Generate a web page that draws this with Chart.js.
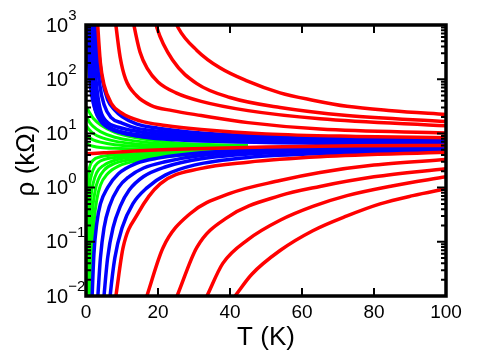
<!DOCTYPE html>
<html>
<head>
<meta charset="utf-8">
<script src="https://cdn.jsdelivr.net/npm/chart.js@4/dist/chart.umd.min.js"></script>
<style>
  html, body { margin: 0; padding: 0; background: #fff; }
</style>
</head>
<body>
<canvas id="chart" width="480" height="361"></canvas>
<script>
// axis ticks
const xTicks = [0, 20, 40, 60, 80, 100];
const yExponents = [-2, -1, 0, 1, 2, 3];

// separatrix (red, nearly flat)
const sepT = [0.3, 5, 15, 30, 50, 75, 100];
const sepRho = [4.2, 4.4, 4.8, 5.2, 5.6, 5.9, 6.0];

// red curves above the separatrix (insulating side), T in K, rho in kOhm
const redUpT = [
  [3.0, 3.3, 4.0, 5.0, 7.0, 10, 15, 22, 32, 50, 75, 100],
  [7.8, 8.3, 9.5, 11, 14, 18, 24, 32, 45, 65, 100],
  [12.5, 13.3, 15, 17, 20, 25, 32, 45, 65, 100],
  [18.5, 19.7, 24.2, 30.8, 40, 53.9, 72.5, 100],
  [23.5, 25.6, 30.8, 37.2, 44.7, 53.9, 63, 72.5, 85, 100]
];
const redUpRho = [
  [2000, 890, 200, 79, 36, 23.5, 17, 14, 11.8, 9.8, 8.8, 8.3],
  [2000, 1000, 251, 100, 50, 33, 26.3, 21.4, 15.8, 12, 10.2],
  [2000, 1000, 316, 158, 89, 56, 39, 26.3, 18.6, 13.8],
  [2000, 891, 219, 83, 46, 30, 21.4, 16.6],
  [2000, 891, 340, 162, 93, 56, 41, 31.6, 26.3, 22.4]
];

// red curves below the separatrix (metallic side)
const redDownT = [
  [7.6, 8.3, 10.3, 14.4, 20.6, 31.7, 45, 65, 100],
  [15.4, 16.9, 21.4, 28.9, 40, 53.9, 65, 80, 100],
  [23.4, 25.3, 30.8, 39.2, 53.9, 65, 80, 100],
  [31.4, 33.6, 38, 45, 53.9, 63, 72.5, 85, 100],
  [37.9, 41.4, 46, 53.9, 63, 72.5, 81.7, 90.8, 100]
];
const redDownRho = [
  [0.005, 0.01, 0.078, 0.33, 1.17, 2.24, 2.95, 3.7, 4.5],
  [0.005, 0.01, 0.078, 0.33, 0.78, 1.35, 1.9, 2.6, 3.3],
  [0.005, 0.01, 0.079, 0.28, 0.71, 1.05, 1.58, 2.24],
  [0.005, 0.01, 0.04, 0.11, 0.25, 0.45, 0.71, 1.07, 1.58],
  [0.005, 0.01, 0.025, 0.069, 0.16, 0.30, 0.5, 0.71, 0.95]
];

// blue curves above the separatrix
const blueUpT = [
  [0.2, 0.35, 0.6, 1.0, 1.6, 2.5, 4, 6.5, 10, 16, 25, 40, 65, 100],
  [0.55, 0.8, 1.1, 1.6, 2.4, 4, 7, 12, 20, 32, 55, 100],
  [1.0, 1.3, 1.7, 2.3, 3.2, 5, 8, 13, 20, 32, 55, 100],
  [1.5, 1.8, 2.3, 3.0, 4, 6, 9, 14, 20, 32, 55, 100],
  [2.1, 2.4, 3.0, 3.8, 5, 7, 10, 14, 20, 32, 55, 100],
  [2.7, 3.0, 3.6, 4.5, 6, 8, 10, 14, 20, 32, 55, 100]
];
const blueUpRho = [
  [2000, 1000, 300, 110, 50, 28, 18.5, 13, 10.5, 8.6, 7.6, 7.0, 6.6, 6.4],
  [2000, 1000, 250, 70, 30, 17, 12, 9.5, 8.2, 7.5, 7.0, 6.8],
  [2000, 1000, 250, 70, 28, 15, 11.5, 9.8, 8.8, 8.0, 7.3, 7.1],
  [2000, 1000, 250, 70, 27, 16, 13, 11, 9.8, 8.7, 7.7, 7.3],
  [2000, 1000, 250, 80, 34, 19.5, 15.5, 12.5, 11, 9.5, 8.2, 7.6],
  [2000, 1000, 300, 100, 42, 27, 20.5, 15, 12.5, 10.2, 8.7, 7.9]
];

// blue curves below the separatrix
const blueDownT = [
  [1.5, 1.7, 2.2, 3, 4, 6, 9, 14, 20, 32, 55, 100],
  [3.0, 3.3, 4, 5, 6.5, 9, 12, 16, 22, 32, 55, 100],
  [4.6, 5.0, 6, 7.5, 9.5, 12, 16, 22, 32, 55, 100],
  [6.3, 6.7, 8, 10, 13, 17, 22, 30, 45, 70, 100]
];
const blueDownRho = [
  [0.005, 0.01, 0.06, 0.22, 0.5, 1.0, 1.8, 2.8, 3.5, 4.4, 5.1, 5.4],
  [0.005, 0.01, 0.05, 0.18, 0.45, 1.0, 1.6, 2.3, 3.0, 3.9, 4.8, 5.2],
  [0.005, 0.01, 0.05, 0.18, 0.45, 0.9, 1.6, 2.4, 3.4, 4.5, 5.0],
  [0.005, 0.01, 0.05, 0.18, 0.5, 1.0, 1.7, 2.6, 3.6, 4.3, 4.7]
];

// green curves close to the separatrix
const greenUpT = [0.05, 1, 2, 4, 8, 14, 20, 30, 45];
const greenUpRho = [
  [31, 24, 19, 14.5, 10.5, 8.3, 7.2, 6.4, 6.0],
  [21, 16, 13.5, 10.8, 8.5, 7.2, 6.5, 6.0, 5.8],
  [14, 11.5, 10, 8.5, 7.2, 6.4, 6.0, 5.7, 5.6],
  [9.5, 8.3, 7.6, 6.9, 6.2, 5.8, 5.6, 5.4, 5.4],
  [6.5, 6.1, 5.8, 5.5, 5.3, 5.2, 5.1, 5.1, 5.2]
];
const greenDownT = [
  [0.1, 0.3, 0.6, 1, 2, 4, 8, 15, 25, 40],
  [0.3, 0.5, 0.9, 1.5, 2.5, 4, 8, 15, 25, 40],
  [0.6, 0.9, 1.3, 2, 3, 5, 8, 15, 25, 40],
  [1.0, 1.3, 1.8, 2.5, 3.5, 5, 8, 15, 25, 40],
  [1.4, 1.8, 2.3, 3, 4, 6, 9, 15, 25, 40]
];
const greenDownRho = [
  [0.01, 0.4, 1.5, 2.4, 3.2, 3.7, 4.0, 4.3, 4.7, 5.0],
  [0.01, 0.2, 0.9, 1.7, 2.5, 3.1, 3.6, 4.0, 4.5, 4.9],
  [0.01, 0.12, 0.55, 1.2, 1.9, 2.6, 3.2, 3.8, 4.3, 4.8],
  [0.01, 0.07, 0.35, 0.85, 1.45, 2.1, 2.8, 3.5, 4.1, 4.6],
  [0.01, 0.06, 0.25, 0.6, 1.1, 1.8, 2.5, 3.2, 3.9, 4.5]
];

const RED = '#ff0000';
const BLUE = '#0000ff';
const GREEN = '#00ff00';
const FONT = "'Liberation Sans', Arial, sans-serif";

function curve(ts, rhos, color, width, order) {
  return {
    data: ts.map((t, i) => ({ x: t, y: rhos[i] })),
    borderColor: color,
    borderWidth: width,
    pointRadius: 0,
    fill: false,
    cubicInterpolationMode: 'monotone',
    order: order
  };
}

const datasets = [];
greenUpRho.forEach(r => datasets.push(curve(greenUpT, r, GREEN, 3, 5)));
greenDownT.forEach((t, i) => datasets.push(curve(t, greenDownRho[i], GREEN, 3, 5)));
blueUpT.forEach((t, i) => datasets.push(curve(t, blueUpRho[i], BLUE, 3.5, 4)));
blueDownT.forEach((t, i) => datasets.push(curve(t, blueDownRho[i], BLUE, 3.5, 4)));
redUpT.forEach((t, i) => datasets.push(curve(t, redUpRho[i], RED, 3.5, 2)));
redDownT.forEach((t, i) => datasets.push(curve(t, redDownRho[i], RED, 3.5, 2)));
datasets.push(curve(sepT, sepRho, RED, 3.5, 1));

// frame, inward ticks and 10^n labels
const framePlugin = {
  id: 'frame',
  afterDatasetsDraw(chart) {
    const { ctx, chartArea: a, scales: { x, y } } = chart;
    ctx.save();
    ctx.strokeStyle = '#000';
    ctx.lineWidth = 2;
    ctx.beginPath();
    xTicks.forEach(v => {
      const px = x.getPixelForValue(v);
      ctx.moveTo(px, a.bottom); ctx.lineTo(px, a.bottom - 8);
      ctx.moveTo(px, a.top); ctx.lineTo(px, a.top + 8);
    });
    yExponents.forEach(e => {
      for (let m = 1; m < 10; m++) {
        if (e === 3 && m > 1) break;
        const py = y.getPixelForValue(m * Math.pow(10, e));
        const len = m === 1 ? 9 : 5;
        ctx.moveTo(a.left, py); ctx.lineTo(a.left + len, py);
        ctx.moveTo(a.right, py); ctx.lineTo(a.right - len, py);
      }
    });
    ctx.stroke();
    ctx.lineWidth = 3.5;
    ctx.strokeRect(a.left, a.top, a.right - a.left, a.bottom - a.top);

    ctx.fillStyle = '#000';
    ctx.textAlign = 'left';
    ctx.textBaseline = 'middle';
    yExponents.forEach(e => {
      const py = y.getPixelForValue(Math.pow(10, e));
      ctx.font = '20px ' + FONT;
      ctx.fillText('10', 46, py + 1);
      const w = ctx.measureText('10').width;
      ctx.font = '15px ' + FONT;
      ctx.fillText(String(e).replace('-', '\u2212'), 46 + w, py - 9);
    });
    ctx.restore();
  }
};

new Chart(document.getElementById('chart'), {
  type: 'line',
  data: { datasets: datasets },
  options: {
    responsive: false,
    animation: false,
    devicePixelRatio: 1,
    layout: { padding: { left: 0, top: 25, right: 34, bottom: 0 } },
    plugins: { legend: { display: false }, tooltip: { enabled: false } },
    scales: {
      x: {
        type: 'linear',
        min: 0,
        max: 100,
        afterFit: s => { s.height = 65; },
        afterBuildTicks: s => { s.ticks = xTicks.map(v => ({ value: v })); },
        grid: { display: false, drawTicks: false },
        border: { display: false },
        ticks: { color: '#000', font: { family: FONT, size: 19 }, padding: 5, maxRotation: 0 },
        title: { display: true, text: 'T (K)', color: '#000', font: { family: FONT, size: 26 }, padding: { top: 0, bottom: 7.5 } }
      },
      y: {
        type: 'logarithmic',
        min: 0.01,
        max: 1000,
        afterFit: s => { s.width = 86; },
        grid: { display: false },
        border: { display: false },
        ticks: { display: false },
        title: { display: true, text: 'ρ (kΩ)', color: '#000', font: { family: FONT, size: 26 }, padding: { top: 11, bottom: 0 } }
      }
    }
  },
  plugins: [framePlugin]
});
</script>
</body>
</html>
